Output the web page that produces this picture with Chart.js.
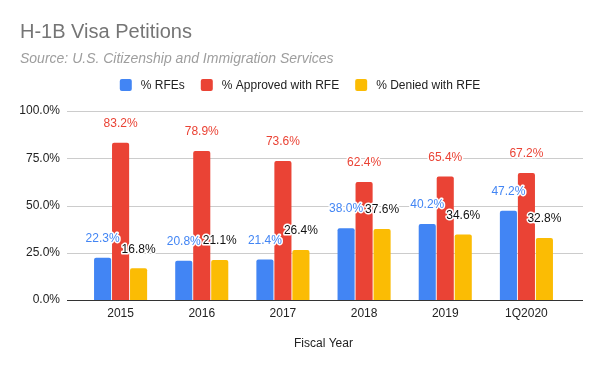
<!DOCTYPE html>
<html>
<head>
<meta charset="utf-8">
<script src="https://cdn.jsdelivr.net/npm/chart.js@4/dist/chart.umd.min.js"></script>
<style>
    html, body { margin: 0; padding: 0; background: #fff; }
    #wrap { width: 600px; height: 371px; position: relative; }
</style>
</head>
<body>
<div id="wrap"><canvas id="visaChart"></canvas></div>
<script>
const years = ['2015', '2016', '2017', '2018', '2019', '1Q2020'];
const rfeRate = [22.3, 20.8, 21.4, 38.0, 40.2, 47.2];
const approvedRate = [83.2, 78.9, 73.6, 62.4, 65.4, 67.2];
const deniedRate = [16.8, 21.1, 26.4, 37.6, 34.6, 32.8];
const yTicks = [0, 25, 50, 75, 100];

const FONT = '"Liberation Sans", Arial, sans-serif';

// Заголовок, подзаголовок и легенда рисуются вручную
const headerPlugin = {
    id: 'header',
    afterDraw(chart) {
        const ctx = chart.ctx;
        ctx.save();
        ctx.textBaseline = 'alphabetic';
        ctx.textAlign = 'left';
        ctx.fillStyle = '#757575';
        ctx.font = '20px ' + FONT;
        ctx.fillText('H-1B Visa Petitions', 20, 38);
        ctx.fillStyle = '#9e9e9e';
        ctx.font = 'italic 14px ' + FONT;
        ctx.fillText('Source: U.S. Citizenship and Immigration Services', 20, 63);

        // легенда по центру
        ctx.font = '12px ' + FONT;
        ctx.textBaseline = 'middle';
        const items = chart.data.datasets.map(ds => ({
            label: ds.label,
            color: ds.backgroundColor,
            w: 12 + 9 + ctx.measureText(ds.label).width
        }));
        const gap = 16;
        const total = items.reduce((s, it) => s + it.w, 0) + gap * (items.length - 1);
        let x = 300 - total / 2;
        const y = 85;
        items.forEach(it => {
            ctx.fillStyle = it.color;
            ctx.beginPath();
            ctx.roundRect(x, y - 6, 12, 12, 2);
            ctx.fill();
            ctx.fillStyle = '#222';
            ctx.fillText(it.label, x + 21, y + 1);
            x += it.w + gap;
        });
        ctx.restore();
    }
};

// Сетка шире, чем область категорий
const gridPlugin = {
    id: 'wideGrid',
    beforeDatasetsDraw(chart) {
        const ctx = chart.ctx;
        const yScale = chart.scales.y;
        ctx.save();
        yTicks.forEach(v => {
            const py = Math.round(yScale.getPixelForValue(v)) + 0.5;
            ctx.strokeStyle = v === 0 ? '#333' : '#cccccc';
            ctx.lineWidth = 1;
            ctx.beginPath();
            ctx.moveTo(67, py);
            ctx.lineTo(583, py);
            ctx.stroke();
        });
        ctx.restore();
    }
};

// Подписи значений над столбцами с белым ореолом
const valueLabelPlugin = {
    id: 'valueLabels',
    afterDatasetsDraw(chart) {
        const ctx = chart.ctx;
        ctx.save();
        ctx.font = '12px ' + FONT;
        ctx.textAlign = 'center';
        ctx.textBaseline = 'middle';
        ctx.lineJoin = 'round';
        chart.data.datasets.forEach((ds, i) => {
            const meta = chart.getDatasetMeta(i);
            meta.data.forEach((bar, j) => {
                const text = ds.data[j].toFixed(1) + '%';
                const ty = bar.y - 19;
                ctx.strokeStyle = '#fff';
                ctx.lineWidth = 3;
                ctx.strokeText(text, bar.x, ty);
                ctx.fillStyle = ds.labelColor;
                ctx.fillText(text, bar.x, ty);
            });
        });
        ctx.restore();
    }
};

const barStyle = {
    borderRadius: { topLeft: 2, topRight: 2, bottomLeft: 0, bottomRight: 0 },
    borderSkipped: 'bottom',
    categoryPercentage: 0.665,
    barPercentage: 0.95
};

new Chart(document.getElementById('visaChart'), {
    type: 'bar',
    data: {
        labels: years,
        datasets: [
            { label: '% RFEs', data: rfeRate, backgroundColor: '#4285F4', labelColor: '#4285F4', ...barStyle },
            { label: '% Approved with RFE', data: approvedRate, backgroundColor: '#EA4335', labelColor: '#EA4335', ...barStyle },
            { label: '% Denied with RFE', data: deniedRate, backgroundColor: '#FBBC04', labelColor: '#111', ...barStyle }
        ]
    },
    options: {
        responsive: true,
        maintainAspectRatio: false,
        animation: false,
        layout: { padding: { top: 111, right: 33, left: 0, bottom: 0 } },
        plugins: {
            legend: { display: false },
            title: { display: false },
            tooltip: { enabled: false }
        },
        scales: {
            y: {
                min: 0,
                max: 100,
                afterFit: s => { s.width = 80; },
                afterBuildTicks: s => { s.ticks = yTicks.map(v => ({ value: v })); },
                grid: { display: false, drawTicks: false },
                border: { display: false },
                ticks: {
                    padding: 20,
                    color: '#222',
                    font: { family: FONT, size: 12 },
                    callback: v => v.toFixed(1) + '%'
                }
            },
            x: {
                afterFit: s => { s.height = 71; },
                grid: { display: false, drawTicks: false },
                border: { display: false },
                ticks: {
                    padding: 6,
                    color: '#222',
                    font: { family: FONT, size: 12 }
                },
                title: {
                    display: true,
                    text: 'Fiscal Year',
                    color: '#222',
                    font: { family: FONT, size: 12 },
                    padding: { top: 0, bottom: 20 }
                }
            }
        }
    },
    plugins: [gridPlugin, valueLabelPlugin, headerPlugin]
});
</script>
</body>
</html>
